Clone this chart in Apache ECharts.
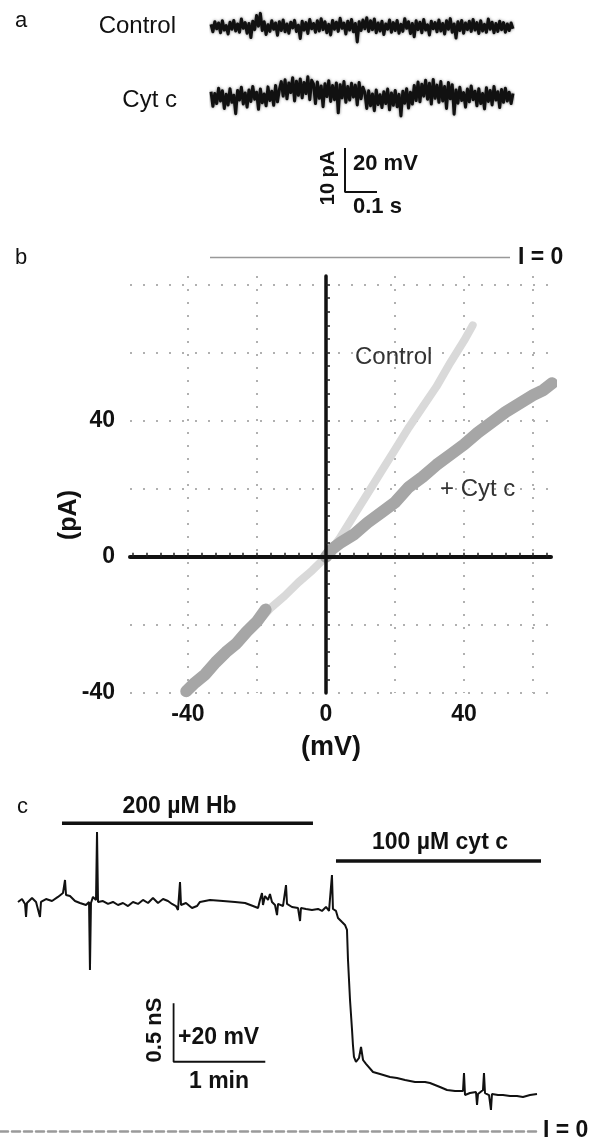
<!DOCTYPE html>
<html><head><meta charset="utf-8">
<script src="https://cdn.jsdelivr.net/npm/echarts@6/dist/echarts.min.js"></script>
<style>html,body{margin:0;padding:0;background:#fff}#c{width:592px;height:1138px}</style>
</head><body><div id="c"></div>
<script>
// ---------- Panel a : single-channel current traces (pA, relative) ----------
const aControl = [
0.6,-1.1,1.2,-0.4,0.9,-1.3,1.4,-0.7,0.3,-1.6,
1.1,-0.5,1.5,-0.9,0.7,-1.2,1.8,-0.3,1.0,-1.4,
0.8,-2.4,1.3,-0.6,2.6,0.2,3.1,-0.8,1.2,-1.7,
0.5,-1.0,1.4,-0.5,0.9,-1.9,1.2,-0.8,1.6,-1.1,
0.7,-1.4,1.1,-0.2,1.5,-1.0,0.4,-2.6,1.3,-0.7,
1.0,-1.5,1.7,-0.4,0.8,-1.2,1.4,-0.9,1.9,-0.6,
1.2,-1.3,0.6,-1.8,1.5,-0.5,1.1,-1.0,2.0,-0.3,
0.9,-1.6,1.3,-0.7,1.7,-1.1,0.8,-3.4,1.2,-0.8,
1.6,-0.4,2.1,-1.0,1.4,-0.6,1.8,-1.3,0.9,-0.9,
1.3,-1.7,0.7,-0.5,1.6,-1.2,1.0,-0.8,1.5,-1.4,
0.6,-1.0,1.9,-0.3,1.2,-1.5,0.8,-2.2,1.4,-0.6,
1.1,-1.3,1.7,-0.7,0.5,-1.8,1.3,-0.4,1.0,-1.1,
1.6,-0.9,0.8,-1.6,1.4,-0.5,1.9,-1.2,0.7,-2.5,
1.2,-0.8,1.5,-1.4,0.9,-0.6,1.3,-1.0,1.7,-0.7,
1.0,-1.5,1.4,-0.9,0.6,-1.2,1.8,-0.5,1.1,-1.3,
0.8,-1.0,1.3,-0.6,1.0,-1.2,0.7,-0.8,0.9,-0.4];
const aCytc = [
1.2,-2.1,0.8,-1.5,2.0,-0.9,1.4,-2.6,0.6,-1.8,
1.9,-1.2,0.4,-3.8,1.5,-0.7,2.2,-1.6,0.9,-2.3,
1.6,-1.0,2.4,-0.5,1.1,-2.8,1.8,-1.3,0.7,-2.0,
2.3,-0.8,1.3,-1.9,2.6,-1.1,1.7,
3.5,0.2,3.9,-0.4,3.2,1.0,4.4,-0.9,3.6,0.4,4.1,-0.2,3.3,0.8,4.6,-0.6,3.8,
2.9,-1.5,3.4,-0.3,2.5,-2.2,3.0,0.1,3.7,-1.0,2.6,-0.6,3.2,-3.6,2.8,-0.2,3.5,-1.2,2.4,-0.7,3.1,0.0,2.7,-1.8,3.3,-0.4,2.2,
1.0,-2.6,1.4,-2.0,0.7,-3.1,1.6,-1.7,0.5,-2.4,1.2,-1.5,1.8,-2.9,0.9,-1.9,1.5,-2.2,0.6,-4.3,1.3,-1.4,1.9,-2.5,1.1,-1.6,
2.6,-0.8,3.4,-1.1,2.9,0.2,3.8,-0.5,3.1,-1.6,4.0,-0.3,2.7,-1.2,3.5,-0.9,2.4,-2.6,3.3,-0.4,2.8,-3.9,
1.6,-1.4,2.2,-0.8,1.0,-2.3,1.8,-1.1,2.5,-0.6,1.3,-2.0,1.9,-1.5,0.8,-2.7,2.1,-1.0,1.5,-1.8,2.4,-0.7,1.2,-2.4,1.7,-1.2,2.0,-0.9,1.1,-1.5,0.8];
const aScaleS = [0, 0.1];     // 0.1 s
const aScalePA = [0, 10];     // 10 pA

// ---------- Panel b : I-V relation ----------
const ctrlMV = [-40,-36,-32,-28,-24,-20,-16,-12,-8,-4,0,4,8,12,16,20,24,28,32,36,40,42.5];
const ctrlPA = [-39,-35.5,-31,-27.5,-23,-19.5,-15,-11.5,-7.5,-4,0,5.5,12,18.5,25,31.5,38,44,50,57,63.5,68];
const cytNegMV = [-40.5,-38,-35,-32,-29,-26,-23,-20,-17.5];
const cytNegPA = [-39.5,-37,-34.5,-31,-28,-25.5,-22,-19,-15.5];
const cytPosMV = [0,2,4,8,12,16,20,24,28,32,36,40,44,48,52,56,60,63,65.5];
const cytPosPA = [0,2.5,4,6.5,10,13,16,20.5,23.5,27,30,33,36.5,39.5,42.5,45,47.5,49,51];
const bXLabels = [-40, 0, 40];
const bYLabels = [-40, 0, 40];
const bXGrid = [-40, -20, 20, 40, 60];
const bYGrid = [-40, -20, 20, 40, 60, 80];
const bXTicks = [-56,-52,-48,-44,-40,-36,-32,-28,-24,-20,-16,-12,-8,-4,4,8,12,16,20,24,28,32,36,40,44,48,52,56,60,64];
const bYTicks = [-36,-32,-28,-24,-20,-16,-12,-8,-4,4,8,12,16,20,24,28,32,36,40,44,48,52,56,60,64,68,72,76,80];

// ---------- Panel c : conductance vs time (min, nS) ----------
const cT = [0.196,0.240,0.273,0.284,0.294,0.349,0.393,0.436,0.447,0.502,0.567,0.632,0.687,0.709,0.720,0.763,0.818,0.872,0.938,0.971,
0.981,0.992,1.014,1.047,1.058,1.069,1.123,1.178,1.232,1.287,1.341,1.396,1.450,1.505,1.559,1.614,1.668,1.723,1.778,1.832,
1.876,1.919,1.941,1.963,1.974,2.028,2.094,2.148,2.181,2.290,2.432,2.563,2.672,2.759,2.814,2.835,2.857,2.868,2.890,2.923,
2.944,2.966,2.999,3.021,3.032,3.086,3.119,3.130,3.184,3.250,3.272,3.282,3.337,3.402,3.468,3.511,3.555,3.588,3.620,3.631,
3.664,3.686,3.730,3.762,3.784,3.795,3.817,3.839,3.849,3.860,3.882,3.915,3.937,3.959,3.991,4.068,4.144,4.253,4.329,4.417,
4.526,4.635,4.689,4.798,4.875,4.962,5.049,5.060,5.071,5.125,5.191,5.202,5.213,5.267,5.278,5.289,5.333,5.354,5.365,5.431,
5.485,5.562,5.638,5.703,5.780,5.856];
const cG = [1.961,1.986,1.944,1.832,1.952,1.995,1.961,1.832,1.961,1.986,1.969,2.004,2.038,2.149,2.021,2.012,1.969,1.952,1.935,1.961,
1.378,1.952,2.004,1.978,2.560,1.961,1.969,1.944,1.961,1.935,1.952,1.926,1.961,1.944,1.978,1.952,1.995,1.952,1.986,1.969,
1.944,1.926,1.892,2.132,1.935,1.952,1.909,1.926,1.961,1.978,1.969,1.961,1.952,1.926,1.909,1.978,2.038,1.935,2.012,1.978,
2.029,1.961,1.935,1.849,1.944,1.926,2.106,1.944,1.918,1.909,1.798,1.909,1.901,1.892,1.901,1.884,1.918,1.884,2.192,1.901,
1.884,1.824,1.789,1.764,1.721,1.464,1.122,0.865,0.736,0.634,0.591,0.625,0.719,0.608,0.574,0.505,0.488,0.462,0.454,0.437,
0.420,0.420,0.411,0.377,0.351,0.342,0.342,0.497,0.308,0.325,0.334,0.223,0.317,0.351,0.497,0.325,0.308,0.180,0.317,0.308,
0.308,0.300,0.300,0.291,0.308,0.317];
const hbPeriod = [0.676, 3.413];      // min
const cytcPeriod = [3.664, 5.954];    // min
const cScaleMin = [1.893, 2.893];     // 1 min
const cScaleNS = [0.593, 1.093];      // 0.5 nS

// ---------- build ----------
const pairs = (xs, ys) => xs.map((x, i) => [x, ys[i]]);
const idx = aControl.map((_, i) => i);
const F = '"Liberation Sans", Arial, sans-serif';
const BAR_HB_G = 2.634, BAR_CYT_G = 2.312;
const traceA = {color: '#111', width: 3, join: 'round', shadowBlur: 3, shadowColor: 'rgba(0,0,0,0.55)'};

const option = {
  animation: false,
  backgroundColor: '#ffffff',
  grid: [
    {left: 211, width: 302, top: 0.6, height: 52.8},
    {left: 211, width: 302, top: 70.6, height: 52.8},
    {left: 345, width: 32, top: 148, height: 44},
    {left: 130, width: 421, top: 276, height: 417},
    {left: 0, width: 538, top: 809.8, height: 321.2}
  ],
  xAxis: [
    {gridIndex: 0, type: 'category', data: idx, boundaryGap: false, show: false},
    {gridIndex: 1, type: 'category', data: idx, boundaryGap: false, show: false},
    {gridIndex: 2, type: 'value', min: 0, max: 0.1, show: false},
    {gridIndex: 3, type: 'value', min: -56.8, max: 65.2, position: 'bottom',
      axisLine: {show: false, onZero: false},
      axisTick: {show: false, customValues: bXGrid},
      axisLabel: {customValues: bXLabels, margin: 10, color: '#111', fontFamily: F, fontWeight: 'bold', fontSize: 23},
      splitLine: {show: true, lineStyle: {color: '#b0b0b0', width: 2, type: [2, 11]}}},
    {gridIndex: 3, type: 'value', min: -56.8, max: 65.2, position: 'top', z: 5,
      axisLine: {show: true, onZero: true, onZeroAxisIndex: 3, lineStyle: {color: '#111', width: 4}},
      axisTick: {show: true, inside: false, length: 4, customValues: bXTicks, lineStyle: {color: '#222', width: 1.5}},
      axisLabel: {show: false}, splitLine: {show: false}},
    {gridIndex: 4, type: 'value', min: 0, max: 5.867, position: 'bottom',
      axisLine: {show: true, onZero: false, lineStyle: {color: '#9a9a9a', width: 2.5, type: [8, 4]}},
      axisTick: {show: false}, axisLabel: {show: false}, splitLine: {show: false}}
  ],
  yAxis: [
    {gridIndex: 0, type: 'value', min: -6, max: 6, show: false},
    {gridIndex: 1, type: 'value', min: -6, max: 6, show: false},
    {gridIndex: 2, type: 'value', min: 0, max: 10, show: false},
    {gridIndex: 3, type: 'value', min: -40, max: 82.5, position: 'left',
      axisLine: {show: false, onZero: false},
      axisTick: {show: false, customValues: bYGrid},
      axisLabel: {customValues: bYLabels, margin: 15, color: '#111', fontFamily: F, fontWeight: 'bold', fontSize: 23},
      splitLine: {show: true, lineStyle: {color: '#b0b0b0', width: 2, type: [2, 11]}}},
    {gridIndex: 3, type: 'value', min: -40, max: 82.5, position: 'right', z: 5,
      axisLine: {show: true, onZero: true, onZeroAxisIndex: 3, lineStyle: {color: '#111', width: 3.5}},
      axisTick: {show: true, inside: false, length: 4, customValues: bYTicks, lineStyle: {color: '#222', width: 1.5}},
      axisLabel: {show: false}, splitLine: {show: false}},
    {gridIndex: 4, type: 'value', min: 0, max: 2.75, show: false}
  ],
  series: [
    {type: 'line', xAxisIndex: 0, yAxisIndex: 0, data: aControl, symbol: 'none', lineStyle: traceA},
    {type: 'line', xAxisIndex: 1, yAxisIndex: 1, data: aCytc, symbol: 'none', lineStyle: traceA},
    {type: 'line', xAxisIndex: 2, yAxisIndex: 2, symbol: 'none', clip: false,
      data: [[aScaleS[0], aScalePA[1]], [aScaleS[0], aScalePA[0]], [aScaleS[1], aScalePA[0]]],
      lineStyle: {color: '#111', width: 2}},
    {type: 'line', xAxisIndex: 3, yAxisIndex: 3, data: pairs(ctrlMV, ctrlPA), symbol: 'none', z: 2,
      lineStyle: {color: '#d9d9d9', width: 8, cap: 'round', join: 'round'}},
    {type: 'line', xAxisIndex: 3, yAxisIndex: 3, data: pairs(cytNegMV, cytNegPA), symbol: 'none', z: 3,
      lineStyle: {color: '#a6a6a6', width: 12, cap: 'round', join: 'round'}},
    {type: 'line', xAxisIndex: 3, yAxisIndex: 3, data: pairs(cytPosMV, cytPosPA), symbol: 'none', z: 3,
      lineStyle: {color: '#a6a6a6', width: 12, cap: 'round', join: 'round'}},
    {type: 'line', xAxisIndex: 5, yAxisIndex: 5, data: pairs(cT, cG), symbol: 'none', clip: false,
      lineStyle: {color: '#111', width: 2}},
    {type: 'line', xAxisIndex: 5, yAxisIndex: 5, symbol: 'none', clip: false,
      data: [[hbPeriod[0], BAR_HB_G], [hbPeriod[1], BAR_HB_G]], lineStyle: {color: '#111', width: 3.5}},
    {type: 'line', xAxisIndex: 5, yAxisIndex: 5, symbol: 'none', clip: false,
      data: [[cytcPeriod[0], BAR_CYT_G], [cytcPeriod[1], BAR_CYT_G]], lineStyle: {color: '#111', width: 3.5}},
    {type: 'line', xAxisIndex: 5, yAxisIndex: 5, symbol: 'none', clip: false,
      data: [[cScaleMin[0], cScaleNS[1]], [cScaleMin[0], cScaleNS[0]], [cScaleMin[1], cScaleNS[0]]],
      lineStyle: {color: '#111', width: 1.8}}
  ],
  graphic: [
    txt('a', 15, 21, 22, false, 'left'),
    txt('Control', 176, 26, 24, false, 'right'),
    txt('Cyt c', 177, 100, 24, false, 'right'),
    rtxt('10 pA', 328, 178, 20),
    txt('20 mV', 353, 164, 22, true, 'left'),
    txt('0.1 s', 353, 207, 22, true, 'left'),
    txt('b', 15, 258, 22, false, 'left'),
    {type: 'line', shape: {x1: 210, y1: 257.5, x2: 510, y2: 257.5}, style: {stroke: '#999', lineWidth: 1.5}},
    txt('I = 0', 518, 257.5, 23, true, 'left'),
    txt('Control', 355, 357, 24, false, 'left', '#333'),
    txt('+ Cyt c', 440, 489, 24, false, 'left', '#333'),
    rtxt('(pA)', 69, 515, 25),
    txt('(mV)', 331, 748, 27, true, 'center'),
    txt('c', 17, 807, 22, false, 'left'),
    txt('200 µM Hb', 179.5, 807, 23, true, 'center'),
    txt('100 µM cyt c', 440, 843, 23, true, 'center'),
    rtxt('0.5 nS', 155, 1030, 22),
    txt('+20 mV', 178, 1038, 23, true, 'left'),
    txt('1 min', 219, 1082, 23, true, 'center'),
    txt('I = 0', 543, 1131, 23, true, 'left')
  ]
};
function txt(t, x, y, size, bold, align, color) {
  return {type: 'text', x: x, y: y, z: 10, style: {text: t, x: 0, y: 0, fill: color || '#111',
    font: (bold ? 'bold ' : '') + size + 'px ' + F, align: align, verticalAlign: 'middle',
    textAlign: align, textVerticalAlign: 'middle'}};
}
function rtxt(t, x, y, size) {
  return {type: 'text', x: x, y: y, rotation: Math.PI / 2, z: 10, style: {text: t, x: 0, y: 0, fill: '#111',
    font: 'bold ' + size + 'px ' + F, align: 'center', verticalAlign: 'middle',
    textAlign: 'center', textVerticalAlign: 'middle'}};
}
const chart = echarts.init(document.getElementById('c'));
chart.setOption(option);
</script>
</body></html>
